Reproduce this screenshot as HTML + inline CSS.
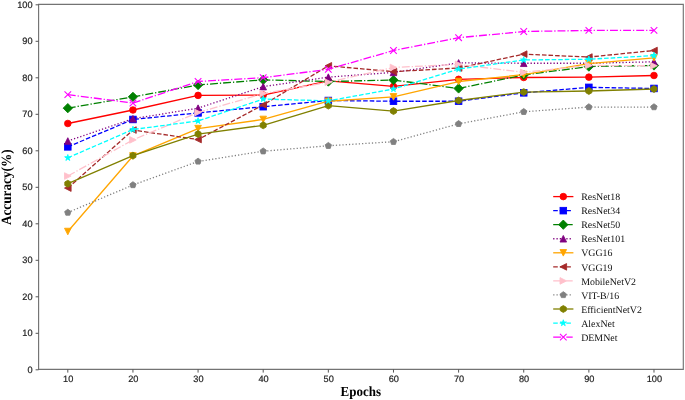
<!DOCTYPE html>
<html><head><meta charset="utf-8"><style>
html,body{margin:0;padding:0;background:#fff;}
body{width:685px;height:400px;overflow:hidden;}
svg{display:block;opacity:0.999;will-change:opacity;}
.tk,.lg,.al{filter:grayscale(1);text-rendering:geometricPrecision;}
.tk{font-family:"Liberation Sans",sans-serif;font-size:9.2px;fill:#222;stroke:#222;stroke-width:0.2px;}
.lg{font-family:"Liberation Serif",serif;font-size:9.9px;fill:#111;}
.al{font-family:"Liberation Serif",serif;font-size:13px;font-weight:bold;fill:#000;}
</style></head><body>

<svg width="685" height="400" viewBox="0 0 685 400">
<rect width="685" height="400" fill="#fff"/>
<polyline points="67.81,123.49 132.94,109.99 198.07,95.39 263.2,95.02 328.33,80.79 393.47,86.44 458.6,79.32 523.73,77.5 588.86,77.14 653.99,75.49" fill="none" stroke="#ff0000" stroke-width="1.3" stroke-linejoin="round" stroke-linecap="butt"/>
<circle cx="67.81" cy="123.49" r="3.3" fill="#ff0000" stroke="#ff0000" stroke-width="0.85"/>
<circle cx="132.94" cy="109.99" r="3.3" fill="#ff0000" stroke="#ff0000" stroke-width="0.85"/>
<circle cx="198.07" cy="95.39" r="3.3" fill="#ff0000" stroke="#ff0000" stroke-width="0.85"/>
<circle cx="263.2" cy="95.02" r="3.3" fill="#ff0000" stroke="#ff0000" stroke-width="0.85"/>
<circle cx="328.33" cy="80.79" r="3.3" fill="#ff0000" stroke="#ff0000" stroke-width="0.85"/>
<circle cx="393.47" cy="86.44" r="3.3" fill="#ff0000" stroke="#ff0000" stroke-width="0.85"/>
<circle cx="458.6" cy="79.32" r="3.3" fill="#ff0000" stroke="#ff0000" stroke-width="0.85"/>
<circle cx="523.73" cy="77.5" r="3.3" fill="#ff0000" stroke="#ff0000" stroke-width="0.85"/>
<circle cx="588.86" cy="77.14" r="3.3" fill="#ff0000" stroke="#ff0000" stroke-width="0.85"/>
<circle cx="653.99" cy="75.49" r="3.3" fill="#ff0000" stroke="#ff0000" stroke-width="0.85"/>
<polyline points="67.81,146.85 132.94,119.47 198.07,112.9 263.2,106.7 328.33,100.5 393.47,101.23 458.6,101.23 523.73,92.83 588.86,87.36 653.99,88.45" fill="none" stroke="#0000ff" stroke-width="1.3" stroke-linejoin="round" stroke-linecap="butt" stroke-dasharray="4.58 1.98"/>
<rect x="64.51" y="143.55" width="6.6" height="6.6" fill="#0000ff" stroke="#0000ff" stroke-width="0.85"/>
<rect x="129.64" y="116.17" width="6.6" height="6.6" fill="#0000ff" stroke="#0000ff" stroke-width="0.85"/>
<rect x="194.77" y="109.6" width="6.6" height="6.6" fill="#0000ff" stroke="#0000ff" stroke-width="0.85"/>
<rect x="259.9" y="103.4" width="6.6" height="6.6" fill="#0000ff" stroke="#0000ff" stroke-width="0.85"/>
<rect x="325.03" y="97.2" width="6.6" height="6.6" fill="#0000ff" stroke="#0000ff" stroke-width="0.85"/>
<rect x="390.17" y="97.93" width="6.6" height="6.6" fill="#0000ff" stroke="#0000ff" stroke-width="0.85"/>
<rect x="455.3" y="97.93" width="6.6" height="6.6" fill="#0000ff" stroke="#0000ff" stroke-width="0.85"/>
<rect x="520.43" y="89.53" width="6.6" height="6.6" fill="#0000ff" stroke="#0000ff" stroke-width="0.85"/>
<rect x="585.56" y="84.06" width="6.6" height="6.6" fill="#0000ff" stroke="#0000ff" stroke-width="0.85"/>
<rect x="650.69" y="85.15" width="6.6" height="6.6" fill="#0000ff" stroke="#0000ff" stroke-width="0.85"/>
<polyline points="67.81,108.16 132.94,96.85 198.07,84.98 263.2,79.87 328.33,81.51 393.47,80.06 458.6,88.45 523.73,74.94 588.86,66.55 653.99,65.45" fill="none" stroke="#008000" stroke-width="1.3" stroke-linejoin="round" stroke-linecap="butt" stroke-dasharray="7.92 1.98 1.24 1.98"/>
<polygon points="67.81,103.49 72.48,108.16 67.81,112.83 63.14,108.16" fill="#008000" stroke="#008000" stroke-width="0.85" stroke-linejoin="miter"/>
<polygon points="132.94,92.18 137.61,96.85 132.94,101.51 128.27,96.85" fill="#008000" stroke="#008000" stroke-width="0.85" stroke-linejoin="miter"/>
<polygon points="198.07,80.32 202.74,84.98 198.07,89.65 193.4,84.98" fill="#008000" stroke="#008000" stroke-width="0.85" stroke-linejoin="miter"/>
<polygon points="263.2,75.21 267.87,79.87 263.2,84.54 258.54,79.87" fill="#008000" stroke="#008000" stroke-width="0.85" stroke-linejoin="miter"/>
<polygon points="328.33,76.85 333,81.51 328.33,86.18 323.67,81.51" fill="#008000" stroke="#008000" stroke-width="0.85" stroke-linejoin="miter"/>
<polygon points="393.47,75.39 398.13,80.06 393.47,84.72 388.8,80.06" fill="#008000" stroke="#008000" stroke-width="0.85" stroke-linejoin="miter"/>
<polygon points="458.6,83.78 463.26,88.45 458.6,93.12 453.93,88.45" fill="#008000" stroke="#008000" stroke-width="0.85" stroke-linejoin="miter"/>
<polygon points="523.73,70.28 528.4,74.94 523.73,79.61 519.06,74.94" fill="#008000" stroke="#008000" stroke-width="0.85" stroke-linejoin="miter"/>
<polygon points="588.86,61.88 593.53,66.55 588.86,71.22 584.19,66.55" fill="#008000" stroke="#008000" stroke-width="0.85" stroke-linejoin="miter"/>
<polygon points="653.99,60.79 658.66,65.45 653.99,70.12 649.32,65.45" fill="#008000" stroke="#008000" stroke-width="0.85" stroke-linejoin="miter"/>
<polyline points="67.81,141.01 132.94,118.75 198.07,108.16 263.2,86.62 328.33,77.14 393.47,72.39 458.6,62.9 523.73,63.26 588.86,63.26 653.99,61.81" fill="none" stroke="#800080" stroke-width="1.3" stroke-linejoin="round" stroke-linecap="butt" stroke-dasharray="1.24 2.04"/>
<polygon points="67.81,137.71 64.51,144.31 71.11,144.31" fill="#800080" stroke="#800080" stroke-width="0.85" stroke-linejoin="miter"/>
<polygon points="132.94,115.45 129.64,122.05 136.24,122.05" fill="#800080" stroke="#800080" stroke-width="0.85" stroke-linejoin="miter"/>
<polygon points="198.07,104.86 194.77,111.46 201.37,111.46" fill="#800080" stroke="#800080" stroke-width="0.85" stroke-linejoin="miter"/>
<polygon points="263.2,83.33 259.9,89.92 266.5,89.92" fill="#800080" stroke="#800080" stroke-width="0.85" stroke-linejoin="miter"/>
<polygon points="328.33,73.84 325.03,80.44 331.63,80.44" fill="#800080" stroke="#800080" stroke-width="0.85" stroke-linejoin="miter"/>
<polygon points="393.47,69.09 390.17,75.69 396.77,75.69" fill="#800080" stroke="#800080" stroke-width="0.85" stroke-linejoin="miter"/>
<polygon points="458.6,59.6 455.3,66.2 461.9,66.2" fill="#800080" stroke="#800080" stroke-width="0.85" stroke-linejoin="miter"/>
<polygon points="523.73,59.96 520.43,66.56 527.03,66.56" fill="#800080" stroke="#800080" stroke-width="0.85" stroke-linejoin="miter"/>
<polygon points="588.86,59.96 585.56,66.56 592.16,66.56" fill="#800080" stroke="#800080" stroke-width="0.85" stroke-linejoin="miter"/>
<polygon points="653.99,58.51 650.69,65.11 657.29,65.11" fill="#800080" stroke="#800080" stroke-width="0.85" stroke-linejoin="miter"/>
<polyline points="67.81,231.53 132.94,155.97 198.07,128.6 263.2,119.47 328.33,101.23 393.47,96.85 458.6,81.51 523.73,74.58 588.86,63.63 653.99,57.79" fill="none" stroke="#ffa500" stroke-width="1.3" stroke-linejoin="round" stroke-linecap="butt"/>
<polygon points="67.81,234.83 64.51,228.23 71.11,228.23" fill="#ffa500" stroke="#ffa500" stroke-width="0.85" stroke-linejoin="miter"/>
<polygon points="132.94,159.28 129.64,152.67 136.24,152.67" fill="#ffa500" stroke="#ffa500" stroke-width="0.85" stroke-linejoin="miter"/>
<polygon points="198.07,131.9 194.77,125.3 201.37,125.3" fill="#ffa500" stroke="#ffa500" stroke-width="0.85" stroke-linejoin="miter"/>
<polygon points="263.2,122.77 259.9,116.17 266.5,116.17" fill="#ffa500" stroke="#ffa500" stroke-width="0.85" stroke-linejoin="miter"/>
<polygon points="328.33,104.53 325.03,97.93 331.63,97.93" fill="#ffa500" stroke="#ffa500" stroke-width="0.85" stroke-linejoin="miter"/>
<polygon points="393.47,100.15 390.17,93.55 396.77,93.55" fill="#ffa500" stroke="#ffa500" stroke-width="0.85" stroke-linejoin="miter"/>
<polygon points="458.6,84.81 455.3,78.21 461.9,78.21" fill="#ffa500" stroke="#ffa500" stroke-width="0.85" stroke-linejoin="miter"/>
<polygon points="523.73,77.88 520.43,71.28 527.03,71.28" fill="#ffa500" stroke="#ffa500" stroke-width="0.85" stroke-linejoin="miter"/>
<polygon points="588.86,66.93 585.56,60.33 592.16,60.33" fill="#ffa500" stroke="#ffa500" stroke-width="0.85" stroke-linejoin="miter"/>
<polygon points="653.99,61.09 650.69,54.49 657.29,54.49" fill="#ffa500" stroke="#ffa500" stroke-width="0.85" stroke-linejoin="miter"/>
<polyline points="67.81,188.09 132.94,130.06 198.07,139.55 263.2,104.88 328.33,65.82 393.47,71.66 458.6,68.01 523.73,54.14 588.86,57.06 653.99,50.49" fill="none" stroke="#a52a2a" stroke-width="1.3" stroke-linejoin="round" stroke-linecap="butt" stroke-dasharray="4.58 1.98"/>
<polygon points="64.51,188.09 71.11,184.79 71.11,191.4" fill="#a52a2a" stroke="#a52a2a" stroke-width="0.85" stroke-linejoin="miter"/>
<polygon points="129.64,130.06 136.24,126.76 136.24,133.36" fill="#a52a2a" stroke="#a52a2a" stroke-width="0.85" stroke-linejoin="miter"/>
<polygon points="194.77,139.55 201.37,136.25 201.37,142.85" fill="#a52a2a" stroke="#a52a2a" stroke-width="0.85" stroke-linejoin="miter"/>
<polygon points="259.9,104.88 266.5,101.58 266.5,108.17" fill="#a52a2a" stroke="#a52a2a" stroke-width="0.85" stroke-linejoin="miter"/>
<polygon points="325.03,65.82 331.63,62.52 331.63,69.12" fill="#a52a2a" stroke="#a52a2a" stroke-width="0.85" stroke-linejoin="miter"/>
<polygon points="390.17,71.66 396.77,68.36 396.77,74.96" fill="#a52a2a" stroke="#a52a2a" stroke-width="0.85" stroke-linejoin="miter"/>
<polygon points="455.3,68.01 461.9,64.71 461.9,71.31" fill="#a52a2a" stroke="#a52a2a" stroke-width="0.85" stroke-linejoin="miter"/>
<polygon points="520.43,54.14 527.03,50.84 527.03,57.44" fill="#a52a2a" stroke="#a52a2a" stroke-width="0.85" stroke-linejoin="miter"/>
<polygon points="585.56,57.06 592.16,53.76 592.16,60.36" fill="#a52a2a" stroke="#a52a2a" stroke-width="0.85" stroke-linejoin="miter"/>
<polygon points="650.69,50.49 657.29,47.19 657.29,53.79" fill="#a52a2a" stroke="#a52a2a" stroke-width="0.85" stroke-linejoin="miter"/>
<polyline points="67.81,176.05 132.94,139.91 198.07,112.54 263.2,93.56 328.33,82.25 393.47,67.46 458.6,64.36 523.73,72.39 588.86,65.45 653.99,65.82" fill="none" stroke="#ffc0cb" stroke-width="1.3" stroke-linejoin="round" stroke-linecap="butt" stroke-dasharray="7.92 1.98 1.24 1.98"/>
<polygon points="71.11,176.05 64.51,172.75 64.51,179.35" fill="#ffc0cb" stroke="#ffc0cb" stroke-width="0.85" stroke-linejoin="miter"/>
<polygon points="136.24,139.91 129.64,136.61 129.64,143.22" fill="#ffc0cb" stroke="#ffc0cb" stroke-width="0.85" stroke-linejoin="miter"/>
<polygon points="201.37,112.54 194.77,109.24 194.77,115.84" fill="#ffc0cb" stroke="#ffc0cb" stroke-width="0.85" stroke-linejoin="miter"/>
<polygon points="266.5,93.56 259.9,90.26 259.9,96.86" fill="#ffc0cb" stroke="#ffc0cb" stroke-width="0.85" stroke-linejoin="miter"/>
<polygon points="331.63,82.25 325.03,78.95 325.03,85.55" fill="#ffc0cb" stroke="#ffc0cb" stroke-width="0.85" stroke-linejoin="miter"/>
<polygon points="396.77,67.46 390.17,64.16 390.17,70.76" fill="#ffc0cb" stroke="#ffc0cb" stroke-width="0.85" stroke-linejoin="miter"/>
<polygon points="461.9,64.36 455.3,61.06 455.3,67.66" fill="#ffc0cb" stroke="#ffc0cb" stroke-width="0.85" stroke-linejoin="miter"/>
<polygon points="527.03,72.39 520.43,69.09 520.43,75.69" fill="#ffc0cb" stroke="#ffc0cb" stroke-width="0.85" stroke-linejoin="miter"/>
<polygon points="592.16,65.45 585.56,62.15 585.56,68.75" fill="#ffc0cb" stroke="#ffc0cb" stroke-width="0.85" stroke-linejoin="miter"/>
<polygon points="657.29,65.82 650.69,62.52 650.69,69.12" fill="#ffc0cb" stroke="#ffc0cb" stroke-width="0.85" stroke-linejoin="miter"/>
<polyline points="67.81,212.55 132.94,184.99 198.07,161.45 263.2,151.23 328.33,145.75 393.47,141.74 458.6,123.85 523.73,111.81 588.86,107.06 653.99,107.06" fill="none" stroke="#808080" stroke-width="1.3" stroke-linejoin="round" stroke-linecap="butt" stroke-dasharray="1.24 2.04"/>
<polygon points="67.81,209.25 64.67,211.53 65.87,215.22 69.75,215.22 70.95,211.53" fill="#808080" stroke="#808080" stroke-width="0.85" stroke-linejoin="miter"/>
<polygon points="132.94,181.69 129.8,183.97 131,187.66 134.88,187.66 136.08,183.97" fill="#808080" stroke="#808080" stroke-width="0.85" stroke-linejoin="miter"/>
<polygon points="198.07,158.15 194.93,160.43 196.13,164.12 200.01,164.12 201.21,160.43" fill="#808080" stroke="#808080" stroke-width="0.85" stroke-linejoin="miter"/>
<polygon points="263.2,147.93 260.06,150.21 261.26,153.9 265.14,153.9 266.34,150.21" fill="#808080" stroke="#808080" stroke-width="0.85" stroke-linejoin="miter"/>
<polygon points="328.33,142.45 325.2,144.74 326.39,148.42 330.27,148.42 331.47,144.74" fill="#808080" stroke="#808080" stroke-width="0.85" stroke-linejoin="miter"/>
<polygon points="393.47,138.44 390.33,140.72 391.53,144.41 395.41,144.41 396.6,140.72" fill="#808080" stroke="#808080" stroke-width="0.85" stroke-linejoin="miter"/>
<polygon points="458.6,120.55 455.46,122.84 456.66,126.52 460.54,126.52 461.74,122.84" fill="#808080" stroke="#808080" stroke-width="0.85" stroke-linejoin="miter"/>
<polygon points="523.73,108.51 520.59,110.79 521.79,114.48 525.67,114.48 526.87,110.79" fill="#808080" stroke="#808080" stroke-width="0.85" stroke-linejoin="miter"/>
<polygon points="588.86,103.76 585.72,106.05 586.92,109.73 590.8,109.73 592,106.05" fill="#808080" stroke="#808080" stroke-width="0.85" stroke-linejoin="miter"/>
<polygon points="653.99,103.76 650.85,106.05 652.05,109.73 655.93,109.73 657.13,106.05" fill="#808080" stroke="#808080" stroke-width="0.85" stroke-linejoin="miter"/>
<polyline points="67.81,183.72 132.94,155.61 198.07,134.07 263.2,125.31 328.33,105.61 393.47,111.08 458.6,100.5 523.73,92.1 588.86,91 653.99,89" fill="none" stroke="#808000" stroke-width="1.3" stroke-linejoin="round" stroke-linecap="butt"/>
<polygon points="67.81,180.25 64.81,181.98 64.81,185.45 67.81,187.18 70.81,185.45 70.81,181.98" fill="#808000" stroke="#808000" stroke-width="0.85" stroke-linejoin="miter"/>
<polygon points="132.94,152.15 129.94,153.88 129.94,157.34 132.94,159.08 135.94,157.34 135.94,153.88" fill="#808000" stroke="#808000" stroke-width="0.85" stroke-linejoin="miter"/>
<polygon points="198.07,130.61 195.07,132.34 195.07,135.81 198.07,137.54 201.07,135.81 201.07,132.34" fill="#808000" stroke="#808000" stroke-width="0.85" stroke-linejoin="miter"/>
<polygon points="263.2,121.85 260.2,123.58 260.2,127.05 263.2,128.78 266.2,127.05 266.2,123.58" fill="#808000" stroke="#808000" stroke-width="0.85" stroke-linejoin="miter"/>
<polygon points="328.33,102.14 325.33,103.87 325.33,107.34 328.33,109.07 331.34,107.34 331.34,103.87" fill="#808000" stroke="#808000" stroke-width="0.85" stroke-linejoin="miter"/>
<polygon points="393.47,107.61 390.46,109.35 390.46,112.81 393.47,114.54 396.47,112.81 396.47,109.35" fill="#808000" stroke="#808000" stroke-width="0.85" stroke-linejoin="miter"/>
<polygon points="458.6,97.03 455.6,98.76 455.6,102.23 458.6,103.96 461.6,102.23 461.6,98.76" fill="#808000" stroke="#808000" stroke-width="0.85" stroke-linejoin="miter"/>
<polygon points="523.73,88.64 520.73,90.37 520.73,93.83 523.73,95.57 526.73,93.83 526.73,90.37" fill="#808000" stroke="#808000" stroke-width="0.85" stroke-linejoin="miter"/>
<polygon points="588.86,87.54 585.86,89.27 585.86,92.74 588.86,94.47 591.86,92.74 591.86,89.27" fill="#808000" stroke="#808000" stroke-width="0.85" stroke-linejoin="miter"/>
<polygon points="653.99,85.53 650.99,87.27 650.99,90.73 653.99,92.46 656.99,90.73 656.99,87.27" fill="#808000" stroke="#808000" stroke-width="0.85" stroke-linejoin="miter"/>
<polyline points="67.81,157.8 132.94,129.51 198.07,120.94 263.2,99.04 328.33,100.86 393.47,89 458.6,69.11 523.73,59.98 588.86,59.25 653.99,55.6" fill="none" stroke="#00ffff" stroke-width="1.3" stroke-linejoin="round" stroke-linecap="butt" stroke-dasharray="4.58 1.98"/>
<polygon points="67.81,154.5 67.07,156.78 64.67,156.78 66.61,158.19 65.87,160.47 67.81,159.06 69.75,160.47 69.01,158.19 70.95,156.78 68.55,156.78" fill="#00ffff" stroke="#00ffff" stroke-width="0.85" stroke-linejoin="miter"/>
<polygon points="132.94,126.21 132.2,128.49 129.8,128.49 131.74,129.9 131,132.18 132.94,130.77 134.88,132.18 134.14,129.9 136.08,128.49 133.68,128.49" fill="#00ffff" stroke="#00ffff" stroke-width="0.85" stroke-linejoin="miter"/>
<polygon points="198.07,117.64 197.33,119.92 194.93,119.92 196.87,121.32 196.13,123.6 198.07,122.2 200.01,123.6 199.27,121.32 201.21,119.92 198.81,119.92" fill="#00ffff" stroke="#00ffff" stroke-width="0.85" stroke-linejoin="miter"/>
<polygon points="263.2,95.74 262.46,98.02 260.06,98.02 262,99.42 261.26,101.7 263.2,100.3 265.14,101.7 264.4,99.42 266.34,98.02 263.94,98.02" fill="#00ffff" stroke="#00ffff" stroke-width="0.85" stroke-linejoin="miter"/>
<polygon points="328.33,97.56 327.59,99.84 325.2,99.84 327.14,101.25 326.39,103.53 328.33,102.12 330.27,103.53 329.53,101.25 331.47,99.84 329.08,99.84" fill="#00ffff" stroke="#00ffff" stroke-width="0.85" stroke-linejoin="miter"/>
<polygon points="393.47,85.7 392.72,87.98 390.33,87.98 392.27,89.39 391.53,91.67 393.47,90.26 395.41,91.67 394.66,89.39 396.6,87.98 394.21,87.98" fill="#00ffff" stroke="#00ffff" stroke-width="0.85" stroke-linejoin="miter"/>
<polygon points="458.6,65.81 457.86,68.09 455.46,68.09 457.4,69.49 456.66,71.77 458.6,70.37 460.54,71.77 459.8,69.49 461.74,68.09 459.34,68.09" fill="#00ffff" stroke="#00ffff" stroke-width="0.85" stroke-linejoin="miter"/>
<polygon points="523.73,56.68 522.99,58.96 520.59,58.96 522.53,60.37 521.79,62.65 523.73,61.24 525.67,62.65 524.93,60.37 526.87,58.96 524.47,58.96" fill="#00ffff" stroke="#00ffff" stroke-width="0.85" stroke-linejoin="miter"/>
<polygon points="588.86,55.95 588.12,58.23 585.72,58.23 587.66,59.64 586.92,61.92 588.86,60.51 590.8,61.92 590.06,59.64 592,58.23 589.6,58.23" fill="#00ffff" stroke="#00ffff" stroke-width="0.85" stroke-linejoin="miter"/>
<polygon points="653.99,52.3 653.25,54.58 650.85,54.58 652.79,55.99 652.05,58.27 653.99,56.86 655.93,58.27 655.19,55.99 657.13,54.58 654.73,54.58" fill="#00ffff" stroke="#00ffff" stroke-width="0.85" stroke-linejoin="miter"/>
<polyline points="67.81,94.65 132.94,103.05 198.07,81.51 263.2,77.68 328.33,69.29 393.47,50.49 458.6,37.71 523.73,31.51 588.86,30.42 653.99,30.42" fill="none" stroke="#ff00ff" stroke-width="1.3" stroke-linejoin="round" stroke-linecap="butt" stroke-dasharray="7.92 1.98 1.24 1.98"/>
<path d="M64.51 91.35L71.11 97.95M64.51 97.95L71.11 91.35" stroke="#ff00ff" stroke-width="1.1" fill="none"/>
<path d="M129.64 99.75L136.24 106.35M129.64 106.35L136.24 99.75" stroke="#ff00ff" stroke-width="1.1" fill="none"/>
<path d="M194.77 78.21L201.37 84.81M194.77 84.81L201.37 78.21" stroke="#ff00ff" stroke-width="1.1" fill="none"/>
<path d="M259.9 74.38L266.5 80.98M259.9 80.98L266.5 74.38" stroke="#ff00ff" stroke-width="1.1" fill="none"/>
<path d="M325.03 65.99L331.63 72.59M325.03 72.59L331.63 65.99" stroke="#ff00ff" stroke-width="1.1" fill="none"/>
<path d="M390.17 47.19L396.77 53.79M390.17 53.79L396.77 47.19" stroke="#ff00ff" stroke-width="1.1" fill="none"/>
<path d="M455.3 34.41L461.9 41.01M455.3 41.01L461.9 34.41" stroke="#ff00ff" stroke-width="1.1" fill="none"/>
<path d="M520.43 28.21L527.03 34.81M520.43 34.81L527.03 28.21" stroke="#ff00ff" stroke-width="1.1" fill="none"/>
<path d="M585.56 27.12L592.16 33.72M585.56 33.72L592.16 27.12" stroke="#ff00ff" stroke-width="1.1" fill="none"/>
<path d="M650.69 27.12L657.29 33.72M650.69 33.72L657.29 27.12" stroke="#ff00ff" stroke-width="1.1" fill="none"/>
<path d="M38.6 4.45H683.3V369.4H38.6Z" fill="none" stroke="#737373" stroke-width="1.15"/>
<path d="M35.6 369.8H38.6M35.6 333.3H38.6M35.6 296.8H38.6M35.6 260.3H38.6M35.6 223.8H38.6M35.6 187.3H38.6M35.6 150.8H38.6M35.6 114.3H38.6M35.6 77.8H38.6M35.6 41.3H38.6M35.6 4.8H38.6M67.81 369.4V372.6M132.94 369.4V372.6M198.07 369.4V372.6M263.2 369.4V372.6M328.33 369.4V372.6M393.47 369.4V372.6M458.6 369.4V372.6M523.73 369.4V372.6M588.86 369.4V372.6M653.99 369.4V372.6" stroke="#555" stroke-width="1" fill="none"/>
<text class="tk" x="32.6" y="372.8" text-anchor="end">0</text>
<text class="tk" x="32.6" y="336.3" text-anchor="end">10</text>
<text class="tk" x="32.6" y="299.8" text-anchor="end">20</text>
<text class="tk" x="32.6" y="263.3" text-anchor="end">30</text>
<text class="tk" x="32.6" y="226.8" text-anchor="end">40</text>
<text class="tk" x="32.6" y="190.3" text-anchor="end">50</text>
<text class="tk" x="32.6" y="153.8" text-anchor="end">60</text>
<text class="tk" x="32.6" y="117.3" text-anchor="end">70</text>
<text class="tk" x="32.6" y="80.8" text-anchor="end">80</text>
<text class="tk" x="32.6" y="44.3" text-anchor="end">90</text>
<text class="tk" x="32.6" y="7.8" text-anchor="end">100</text>
<text class="tk" x="68.21" y="382.4" text-anchor="middle">10</text>
<text class="tk" x="133.34" y="382.4" text-anchor="middle">20</text>
<text class="tk" x="198.47" y="382.4" text-anchor="middle">30</text>
<text class="tk" x="263.6" y="382.4" text-anchor="middle">40</text>
<text class="tk" x="328.73" y="382.4" text-anchor="middle">50</text>
<text class="tk" x="393.87" y="382.4" text-anchor="middle">60</text>
<text class="tk" x="459" y="382.4" text-anchor="middle">70</text>
<text class="tk" x="524.13" y="382.4" text-anchor="middle">80</text>
<text class="tk" x="589.26" y="382.4" text-anchor="middle">90</text>
<text class="tk" x="654.39" y="382.4" text-anchor="middle">100</text>
<text class="al" transform="translate(360.8 396) scale(1 1.07)" x="0" y="0" text-anchor="middle">Epochs</text>
<text class="al" style="font-size:13.25px" transform="translate(11.3 187.2) rotate(-90) scale(1 1.07)" x="0" y="0" text-anchor="middle">Accuracy(%)</text>
<polyline points="553.2,196.6 573.4,196.6" fill="none" stroke="#ff0000" stroke-width="1.3" stroke-linejoin="round" stroke-linecap="butt"/>
<circle cx="563.3" cy="196.6" r="3.3" fill="#ff0000" stroke="#ff0000" stroke-width="0.85"/>
<text class="lg" x="581.2" y="200.25">ResNet18</text>
<polyline points="553.2,210.65 572.7,210.65" fill="none" stroke="#0000ff" stroke-width="1.3" stroke-linejoin="round" stroke-linecap="butt" stroke-dasharray="4.58 1.98"/>
<rect x="560" y="207.35" width="6.6" height="6.6" fill="#0000ff" stroke="#0000ff" stroke-width="0.85"/>
<text class="lg" x="581.2" y="214.3">ResNet34</text>
<polyline points="553.2,224.7 572.7,224.7" fill="none" stroke="#008000" stroke-width="1.3" stroke-linejoin="round" stroke-linecap="butt" stroke-dasharray="7.92 1.98 1.24 1.98"/>
<polygon points="563.3,220.03 567.97,224.7 563.3,229.37 558.63,224.7" fill="#008000" stroke="#008000" stroke-width="0.85" stroke-linejoin="miter"/>
<text class="lg" x="581.2" y="228.35">ResNet50</text>
<polyline points="553.2,238.75 572.7,238.75" fill="none" stroke="#800080" stroke-width="1.3" stroke-linejoin="round" stroke-linecap="butt" stroke-dasharray="1.24 2.04"/>
<polygon points="563.3,235.45 560,242.05 566.6,242.05" fill="#800080" stroke="#800080" stroke-width="0.85" stroke-linejoin="miter"/>
<text class="lg" x="581.2" y="242.4">ResNet101</text>
<polyline points="553.2,252.8 573.4,252.8" fill="none" stroke="#ffa500" stroke-width="1.3" stroke-linejoin="round" stroke-linecap="butt"/>
<polygon points="563.3,256.1 560,249.5 566.6,249.5" fill="#ffa500" stroke="#ffa500" stroke-width="0.85" stroke-linejoin="miter"/>
<text class="lg" x="581.2" y="256.45">VGG16</text>
<polyline points="553.2,266.85 572.7,266.85" fill="none" stroke="#a52a2a" stroke-width="1.3" stroke-linejoin="round" stroke-linecap="butt" stroke-dasharray="4.58 1.98"/>
<polygon points="560,266.85 566.6,263.55 566.6,270.15" fill="#a52a2a" stroke="#a52a2a" stroke-width="0.85" stroke-linejoin="miter"/>
<text class="lg" x="581.2" y="270.5">VGG19</text>
<polyline points="553.2,280.9 572.7,280.9" fill="none" stroke="#ffc0cb" stroke-width="1.3" stroke-linejoin="round" stroke-linecap="butt" stroke-dasharray="7.92 1.98 1.24 1.98"/>
<polygon points="566.6,280.9 560,277.6 560,284.2" fill="#ffc0cb" stroke="#ffc0cb" stroke-width="0.85" stroke-linejoin="miter"/>
<text class="lg" x="581.2" y="284.55">MobileNetV2</text>
<polyline points="553.2,294.95 572.7,294.95" fill="none" stroke="#808080" stroke-width="1.3" stroke-linejoin="round" stroke-linecap="butt" stroke-dasharray="1.24 2.04"/>
<polygon points="563.3,291.65 560.16,293.93 561.36,297.62 565.24,297.62 566.44,293.93" fill="#808080" stroke="#808080" stroke-width="0.85" stroke-linejoin="miter"/>
<text class="lg" x="581.2" y="298.6">VIT-B/16</text>
<polyline points="553.2,309 573.4,309" fill="none" stroke="#808000" stroke-width="1.3" stroke-linejoin="round" stroke-linecap="butt"/>
<polygon points="563.3,305.54 560.3,307.27 560.3,310.73 563.3,312.46 566.3,310.73 566.3,307.27" fill="#808000" stroke="#808000" stroke-width="0.85" stroke-linejoin="miter"/>
<text class="lg" x="581.2" y="312.65">EfficientNetV2</text>
<polyline points="553.2,323.05 572.7,323.05" fill="none" stroke="#00ffff" stroke-width="1.3" stroke-linejoin="round" stroke-linecap="butt" stroke-dasharray="4.58 1.98"/>
<polygon points="563.3,319.75 562.56,322.03 560.16,322.03 562.1,323.44 561.36,325.72 563.3,324.31 565.24,325.72 564.5,323.44 566.44,322.03 564.04,322.03" fill="#00ffff" stroke="#00ffff" stroke-width="0.85" stroke-linejoin="miter"/>
<text class="lg" x="581.2" y="326.7">AlexNet</text>
<polyline points="553.2,337.1 572.7,337.1" fill="none" stroke="#ff00ff" stroke-width="1.3" stroke-linejoin="round" stroke-linecap="butt" stroke-dasharray="7.92 1.98 1.24 1.98"/>
<path d="M560 333.8L566.6 340.4M560 340.4L566.6 333.8" stroke="#ff00ff" stroke-width="1.1" fill="none"/>
<text class="lg" x="581.2" y="340.75">DEMNet</text>
</svg>
</body></html>
